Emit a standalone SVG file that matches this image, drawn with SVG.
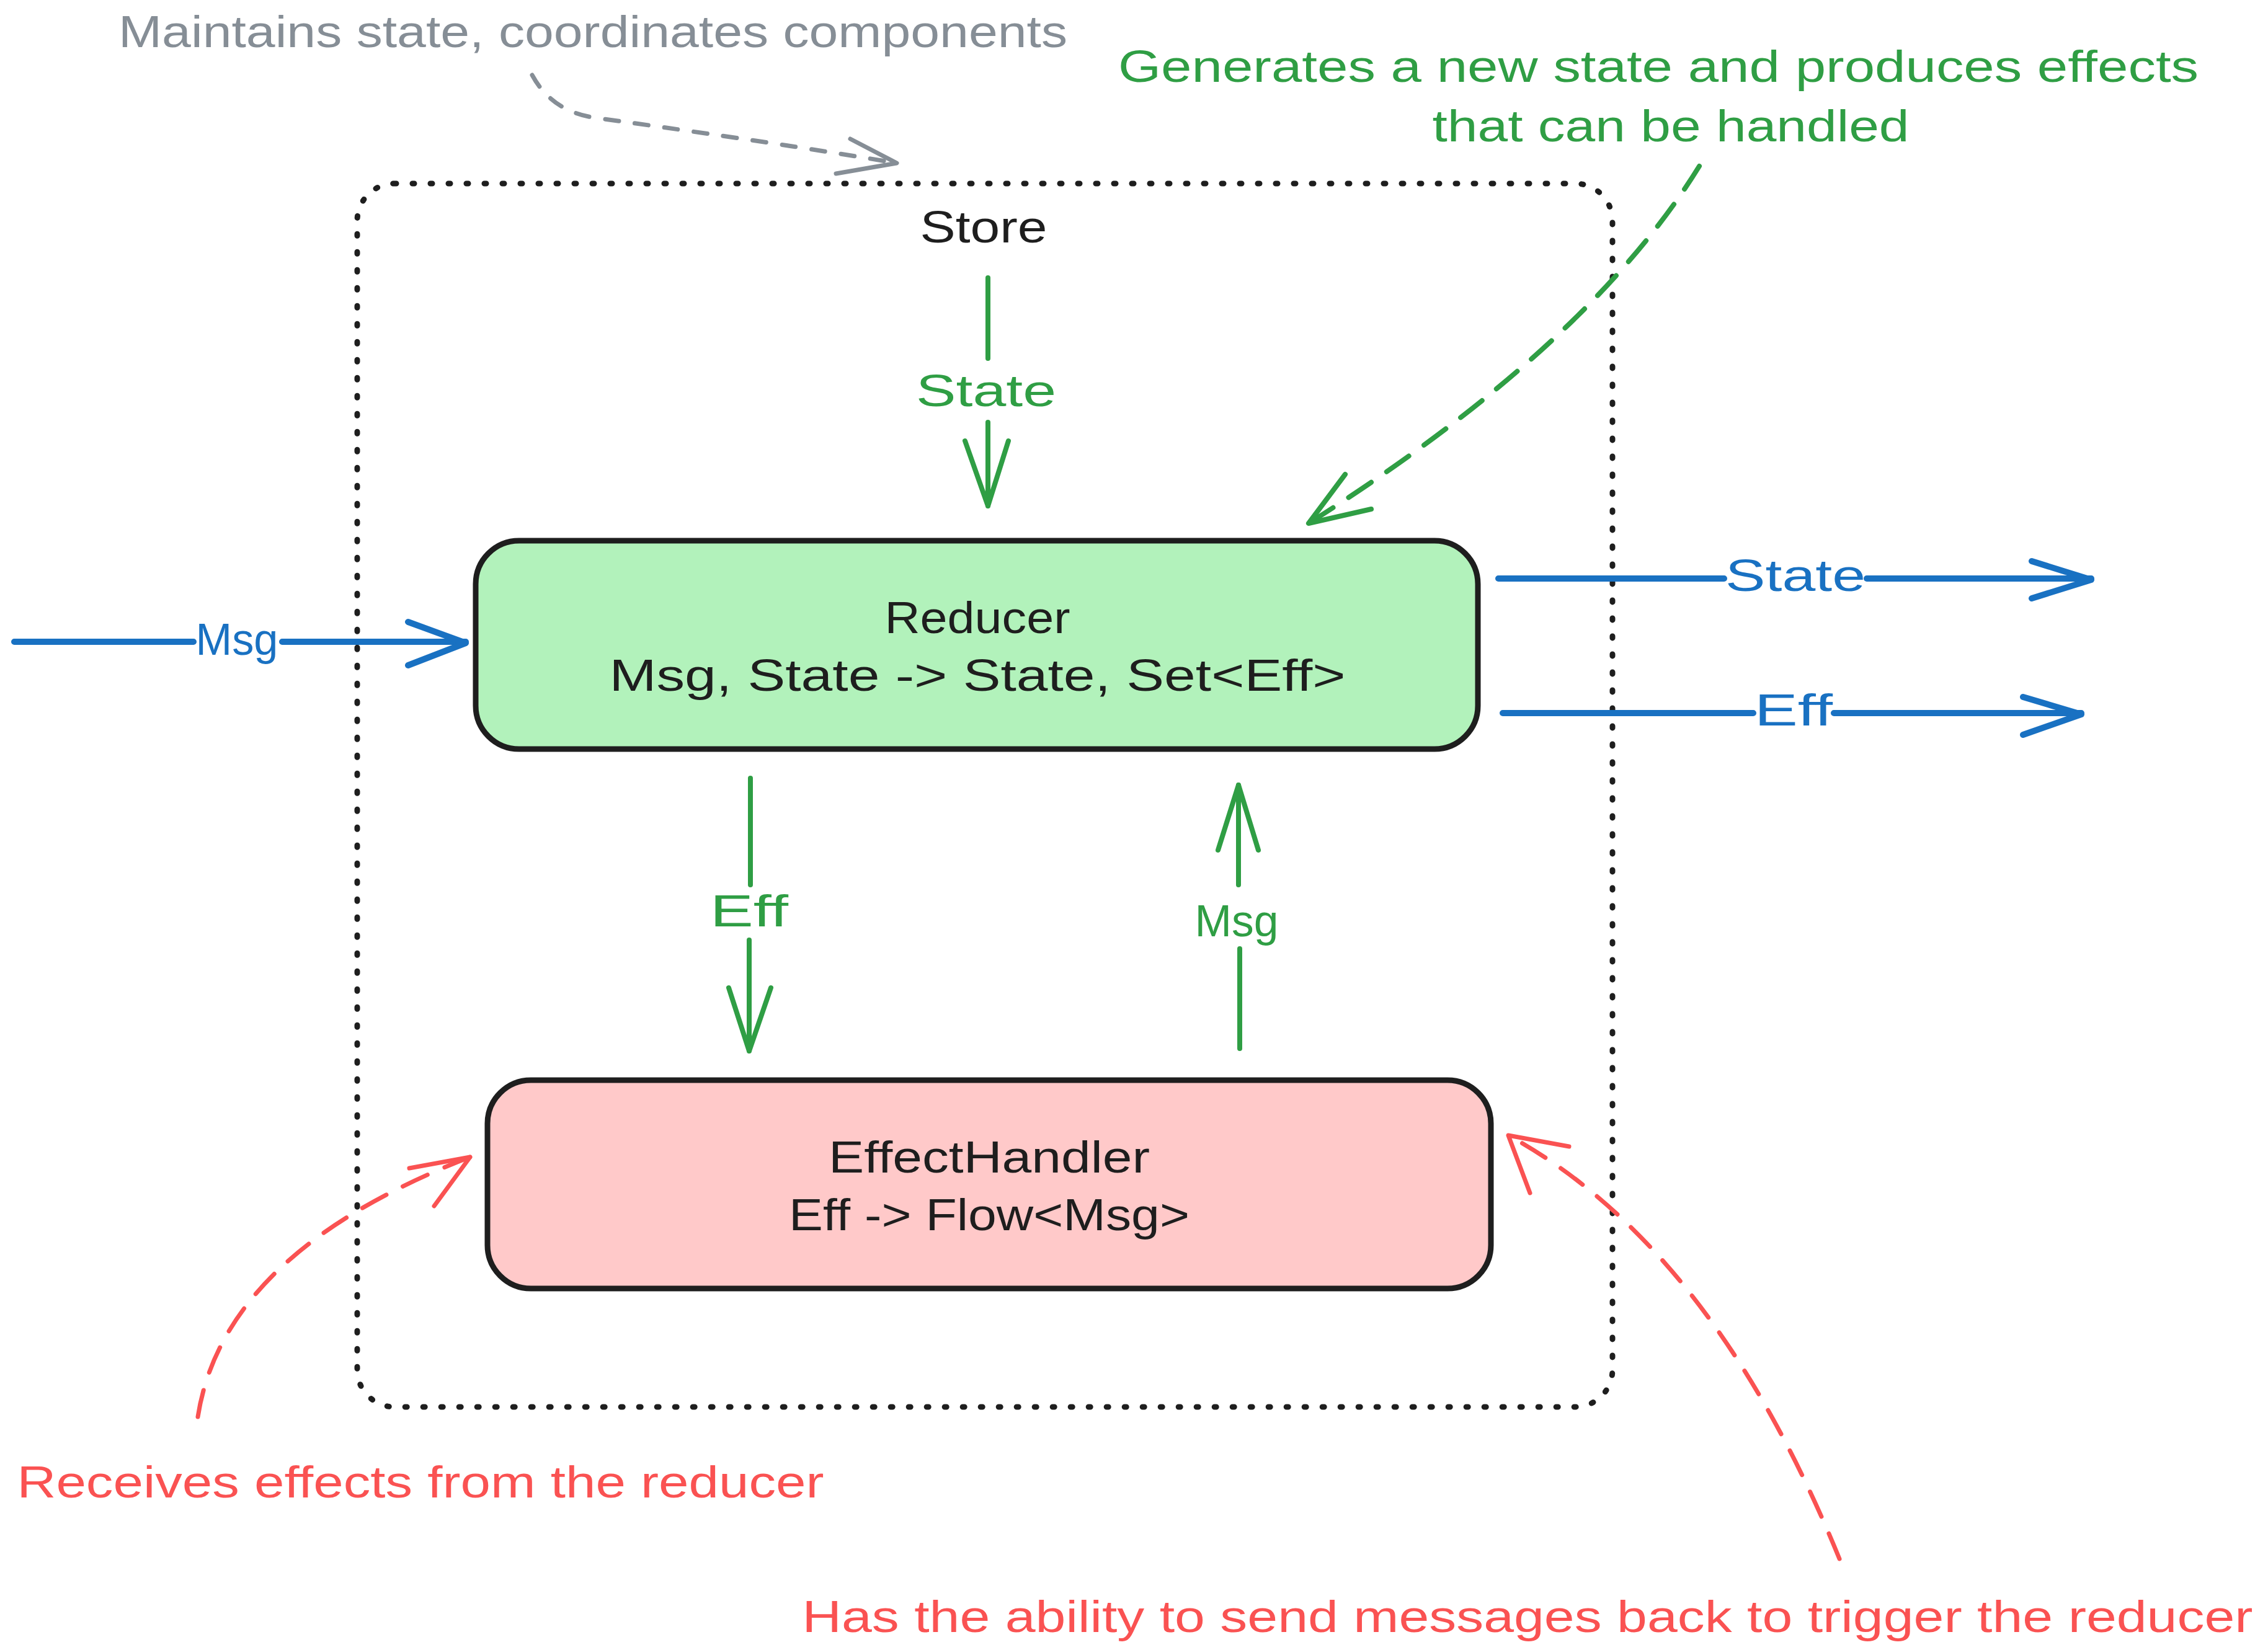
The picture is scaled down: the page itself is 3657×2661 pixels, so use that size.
<svg xmlns="http://www.w3.org/2000/svg" width="3657" height="2661" viewBox="0 0 3657 2661">
<style>
text{font-family:"Liberation Sans","DejaVu Sans",sans-serif;font-size:72px;text-anchor:middle;}
.dark{fill:#1e1e1e;}
.gray{fill:#868e96;}
.green{fill:#2f9e44;}
.blue{fill:#1971c2;}
.red{fill:#fa5252;}
.ln{fill:none;stroke-linecap:round;stroke-linejoin:round;}
.g{stroke:#2f9e44;stroke-width:8;}
.b{stroke:#1971c2;stroke-width:10;}
.r{stroke:#fa5252;stroke-width:7;}
.gr{stroke:#868e96;stroke-width:7;}
.dash{stroke-dasharray:44 30;}
.gdash{stroke-dasharray:22 26;}
.box{stroke:#1e1e1e;stroke-width:9;}
</style>
<rect width="3657" height="2661" fill="#ffffff"/>

<g id="store">
<rect x="576" y="296" width="2024" height="1973" rx="60" fill="none" stroke="#1e1e1e" stroke-width="9" stroke-linecap="round" stroke-dasharray="3 26"/>
<text class="dark" x="1586" y="391" textLength="205" lengthAdjust="spacingAndGlyphs">Store</text>
</g>

<g id="reducer">
<rect class="box" x="767" y="872" width="1616" height="336" rx="70" fill="#b2f2bb"/>
<text class="dark" x="1576" y="1021" textLength="299" lengthAdjust="spacingAndGlyphs">Reducer</text>
<text class="dark" x="1576" y="1114" textLength="1187" lengthAdjust="spacingAndGlyphs">Msg, State -&gt; State, Set&lt;Eff&gt;</text>
</g>

<g id="effecthandler">
<rect class="box" x="786" y="1742" width="1618" height="336" rx="70" fill="#ffc9c9"/>
<text class="dark" x="1595" y="1891" textLength="518" lengthAdjust="spacingAndGlyphs">EffectHandler</text>
<text class="dark" x="1595" y="1984" textLength="646" lengthAdjust="spacingAndGlyphs">Eff -&gt; Flow&lt;Msg&gt;</text>
</g>

<g id="note-store">
<text class="gray" x="956" y="76" textLength="1530" lengthAdjust="spacingAndGlyphs">Maintains state, coordinates components</text>
</g>
<g id="note-reducer">
<text class="green" x="2674" y="132" textLength="1742" lengthAdjust="spacingAndGlyphs">Generates a new state and produces effects</text>
<text class="green" x="2694" y="228" textLength="769" lengthAdjust="spacingAndGlyphs">that can be handled</text>
</g>
<g id="note-receives">
<text class="red" x="678" y="2415" textLength="1301" lengthAdjust="spacingAndGlyphs">Receives effects from the reducer</text>
</g>
<g id="note-sends">
<text class="red" x="2463" y="2632" textLength="2339" lengthAdjust="spacingAndGlyphs">Has the ability to send messages back to trigger the reducer</text>
</g>

<g id="connectors">
<!-- gray annotation arrow -->
<path class="ln gr gdash" d="M858 121 Q890 180 960 190 Q1250 230 1446 263"/>
<path class="ln gr" d="M1371 224 L1446 263 L1348 280"/>

<!-- green annotation arrow -->
<path class="ln g dash" d="M2740 268 Q2560 560 2110 844"/>
<path class="ln g" d="M2169 765 L2110 844 L2211 821"/>

<!-- red left annotation arrow -->
<path class="ln r dash" d="M319 2285 Q360 2020 758 1866"/>
<path class="ln r" d="M660 1884 L758 1866 L700 1945"/>

<!-- red right annotation arrow -->
<path class="ln r dash" d="M2966 2514 Q2760 2010 2432 1831"/>
<path class="ln r" d="M2530 1849 L2432 1831 L2467 1924"/>

<!-- green State down -->
<path class="ln g" d="M1593 448 V578 M1593 681 V816"/>
<path class="ln g" d="M1556 711 L1593 816 L1626 711"/>
<text class="green" x="1590" y="655" textLength="226" lengthAdjust="spacingAndGlyphs">State</text>

<!-- green Eff down -->
<path class="ln g" d="M1210 1255 V1427 M1208 1516 V1695"/>
<path class="ln g" d="M1175 1593 L1208 1695 L1243 1593"/>
<text class="green" x="1208" y="1494" textLength="126" lengthAdjust="spacingAndGlyphs">Eff</text>

<!-- green Msg up -->
<path class="ln g" d="M1999 1691 V1530 M1997 1427 V1266"/>
<path class="ln g" d="M1964 1371 L1997 1266 L2029 1371"/>
<text class="green" x="1994" y="1510" textLength="135" lengthAdjust="spacingAndGlyphs">Msg</text>

<!-- blue Msg in -->
<path class="ln b" d="M23 1035 H312 M455 1035 H751"/>
<path class="ln b" d="M658 1003 L751 1037 L658 1073"/>
<text class="blue" x="382" y="1056" textLength="133" lengthAdjust="spacingAndGlyphs">Msg</text>

<!-- blue State out -->
<path class="ln b" d="M2416 933 H2780 M3010 933 H3372"/>
<path class="ln b" d="M3276 905 L3372 935 L3276 965"/>
<text class="blue" x="2895" y="953" textLength="226" lengthAdjust="spacingAndGlyphs">State</text>

<!-- blue Eff out -->
<path class="ln b" d="M2423 1150 H2827 M2957 1150 H3356"/>
<path class="ln b" d="M3262 1124 L3356 1152 L3262 1185"/>
<text class="blue" x="2892" y="1170" textLength="126" lengthAdjust="spacingAndGlyphs">Eff</text>
</g>
</svg>
